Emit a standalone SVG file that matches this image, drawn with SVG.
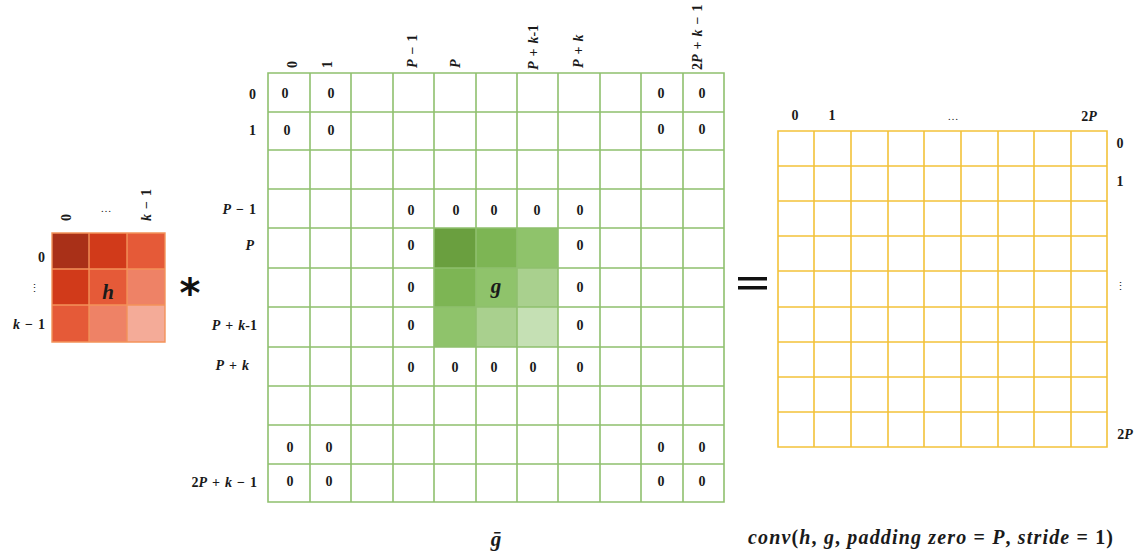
<svg xmlns="http://www.w3.org/2000/svg" width="1141" height="558" viewBox="0 0 1141 558">
<style>
.t{font-family:"Liberation Serif","DejaVu Serif",serif;font-weight:bold;font-size:14px;fill:#1a1a1a;word-spacing:1.5px}
.c{text-anchor:middle}
.r{text-anchor:end}
.i{font-style:italic}
.gl{stroke:#8fc06e;stroke-width:1.6;fill:none}
.yl{stroke:#f3c23a;stroke-width:1.6;fill:none}
.hl{stroke:#f3935a;stroke-width:1.4;fill:none}
</style>
<rect width="1141" height="558" fill="#ffffff"/>
<g id="connectors"></g>

<g id="h-matrix">
<rect x="52" y="233" width="37" height="36" fill="#a93018"/>
<rect x="89" y="233" width="38" height="36" fill="#d13a1a"/>
<rect x="127" y="233" width="38" height="36" fill="#e55a38"/>
<rect x="52" y="269" width="37" height="36" fill="#d13a1a"/>
<rect x="89" y="269" width="38" height="36" fill="#e55a38"/>
<rect x="127" y="269" width="38" height="36" fill="#ee8266"/>
<rect x="52" y="305" width="37" height="37" fill="#e55a38"/>
<rect x="89" y="305" width="38" height="37" fill="#ee8266"/>
<rect x="127" y="305" width="38" height="37" fill="#f4ab98"/>
<path class="hl" d="M52 233H165V342H52Z M89 233V342 M127 233V342 M52 269H165 M52 305H165"/>
<text class="t c i" x="108" y="299" style="font-size:21px">h</text>
<text class="t" transform="translate(71,221) rotate(-90)">0</text>
<text class="t c" x="106" y="212" style="font-weight:normal;font-size:11px">…</text>
<text class="t" transform="translate(151,221) rotate(-90)"><tspan class="i">k</tspan> − 1</text>
<text class="t r" x="45" y="262">0</text>
<text class="t c" x="34" y="292" style="font-weight:normal;font-size:11px">⋮</text>
<text class="t r" x="45" y="329"><tspan class="i">k</tspan> − 1</text>
</g>

<g id="operator-conv">
<text x="190" y="307" text-anchor="middle" style="font-family:'DejaVu Sans',sans-serif;font-weight:bold;font-size:40px;fill:#111">*</text>
</g>

<g id="g-matrix">
<rect x="434" y="228" width="42" height="40" fill="#6a9f3f"/>
<rect x="476" y="228" width="41" height="40" fill="#7db554"/>
<rect x="517" y="228" width="41" height="40" fill="#8fc36b"/>
<rect x="434" y="268" width="42" height="39" fill="#7db554"/>
<rect x="476" y="268" width="41" height="39" fill="#8fc36b"/>
<rect x="517" y="268" width="41" height="39" fill="#a9d08e"/>
<rect x="434" y="307" width="42" height="40" fill="#8fc36b"/>
<rect x="476" y="307" width="41" height="40" fill="#a9d08e"/>
<rect x="517" y="307" width="41" height="40" fill="#c5e0b4"/>
<path class="gl" d="M268 73H724V502H268Z M310 73V502 M351 73V502 M393 73V502 M434 73V502 M476 73V502 M517 73V502 M558 73V502 M600 73V502 M641 73V502 M683 73V502 M268 112H724 M268 150H724 M268 189H724 M268 228H724 M268 268H724 M268 307H724 M268 347H724 M268 386H724 M268 425H724 M268 464H724"/>
<text class="t c i" x="496" y="293" style="font-size:21px">g</text>
<g class="t c">
<text x="285" y="98">0</text><text x="331" y="98">0</text><text x="661" y="98">0</text><text x="702" y="98">0</text>
<text x="287" y="135">0</text><text x="331" y="135">0</text><text x="661" y="134">0</text><text x="702" y="134">0</text>
<text x="411" y="215">0</text><text x="456" y="215">0</text><text x="494" y="215">0</text><text x="537" y="215">0</text><text x="580" y="215">0</text>
<text x="411" y="250">0</text><text x="580" y="250">0</text>
<text x="411" y="292">0</text><text x="580" y="292">0</text>
<text x="411" y="330">0</text><text x="580" y="330">0</text>
<text x="411" y="372">0</text><text x="455" y="372">0</text><text x="494" y="372">0</text><text x="533" y="372">0</text><text x="580" y="372">0</text>
<text x="290" y="452">0</text><text x="329" y="452">0</text><text x="661" y="452">0</text><text x="702" y="452">0</text>
<text x="290" y="486">0</text><text x="329" y="486">0</text><text x="661" y="486">0</text><text x="702" y="486">0</text>
</g>
<text class="t r" x="256" y="99">0</text>
<text class="t r" x="256" y="135">1</text>
<text class="t r" x="256" y="214"><tspan class="i">P</tspan> − 1</text>
<text class="t r" x="254" y="250"><tspan class="i">P</tspan></text>
<text class="t r" x="257" y="330"><tspan class="i">P</tspan> + <tspan class="i">k</tspan>-1</text>
<text class="t r" x="249" y="370"><tspan class="i">P</tspan> + <tspan class="i">k</tspan></text>
<text class="t r" x="257" y="487">2<tspan class="i">P</tspan> + <tspan class="i">k</tspan> − 1</text>
<text class="t" transform="translate(297,68) rotate(-90)">0</text>
<text class="t" transform="translate(332,68) rotate(-90)">1</text>
<text class="t" transform="translate(417,68) rotate(-90)"><tspan class="i">P</tspan> − 1</text>
<text class="t" transform="translate(460,68) rotate(-90)"><tspan class="i">P</tspan></text>
<text class="t" transform="translate(538,70) rotate(-90)"><tspan class="i">P</tspan> + <tspan class="i">k</tspan>-1</text>
<text class="t" transform="translate(583,68) rotate(-90)"><tspan class="i">P</tspan> + <tspan class="i">k</tspan></text>
<text class="t" transform="translate(702,70) rotate(-90)">2<tspan class="i">P</tspan> + <tspan class="i">k</tspan> − 1</text>
<text class="t c i" x="496" y="546" style="font-size:21px">ḡ</text>
</g>

<g id="operator-equals">
<rect x="738" y="277" width="29" height="3.5" fill="#111"/>
<rect x="738" y="286" width="29" height="3.5" fill="#111"/>
</g>

<g id="result-matrix">
<path class="yl" d="M778 131H1107V447H778Z M814 131V447 M851 131V447 M888 131V447 M924 131V447 M961 131V447 M998 131V447 M1034 131V447 M1071 131V447 M778 166H1107 M778 201H1107 M778 236H1107 M778 271H1107 M778 307H1107 M778 342H1107 M778 377H1107 M778 412H1107"/>
<text class="t c" x="795" y="120">0</text>
<text class="t c" x="832" y="120">1</text>
<text class="t c" x="953" y="120" style="font-weight:normal;font-size:11px">…</text>
<text class="t c" x="1089" y="121">2<tspan class="i">P</tspan></text>
<text class="t c" x="1120" y="148">0</text>
<text class="t c" x="1120" y="186">1</text>
<text class="t c" x="1120" y="290" style="font-weight:normal;font-size:11px">⋮</text>
<text class="t c" x="1125" y="439">2<tspan class="i">P</tspan></text>
</g>

<g id="formula">
<text class="t" x="748" y="544" style="font-size:20px;word-spacing:0" textLength="365" lengthAdjust="spacing"><tspan class="i">conv</tspan>(<tspan class="i">h</tspan>, <tspan class="i">g</tspan>, <tspan class="i">padding zero</tspan> = <tspan class="i">P</tspan>, <tspan class="i">stride</tspan> =  1)</text>
</g>
</svg>
